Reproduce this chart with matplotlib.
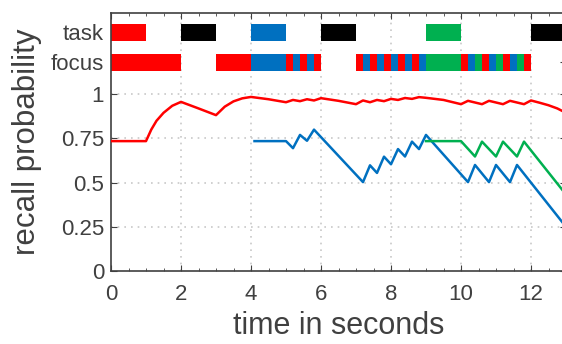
import numpy as np
import matplotlib
matplotlib.use("Agg")
import matplotlib.pyplot as plt

plt.rcParams['font.family'] = ['Liberation Sans', 'DejaVu Sans']

# colours of the four states
R, B, G, K = '#FF0000', '#0070C0', '#00B050', '#000000'

# task bar: start, end, colour
task_start = [0, 2, 4, 6, 9, 12]
task_end = [1, 3, 5, 7, 10, 13]
task_col = [R, K, B, K, G, K]

# focus bar: start, end, colour
focus_start = [0, 3, 4, 5.0, 5.2, 5.4, 5.6, 5.8,
               7.0, 7.2, 7.4, 7.6, 7.8, 8.0, 8.2, 8.4, 8.6, 8.8, 9,
               10.0, 10.2, 10.4, 10.6, 10.8, 11.0, 11.2, 11.4, 11.6, 11.8]
focus_end = [2, 4, 5, 5.2, 5.4, 5.6, 5.8, 6.0,
             7.2, 7.4, 7.6, 7.8, 8.0, 8.2, 8.4, 8.6, 8.8, 9.0, 10,
             10.2, 10.4, 10.6, 10.8, 11.0, 11.2, 11.4, 11.6, 11.8, 12.0]
focus_col = [R, R, B, R, B, R, B, R,
             R, B, R, B, R, B, R, B, R, B, G,
             R, B, G, R, B, G, R, B, G, R]

# recall probability curves
red_t = [0, 1, 1.15, 1.3, 1.5, 1.75, 2, 2.5, 3, 3.25, 3.5, 3.75, 4, 4.5, 5, 5.2, 5.4, 5.6, 5.8, 6,
         6.5, 7, 7.2, 7.4, 7.6, 7.8, 8, 8.2, 8.4, 8.6, 8.8, 9, 9.5, 10, 10.2, 10.6, 10.8,
         11.2, 11.4, 11.8, 12, 12.25, 12.5, 12.75, 13]
red_p = [.735, .735, .8, .85, .895, .935, .957, .92, .882, .93, .96, .977, .985, .972, .955, .968,
         .961, .972, .965, .978, .963, .944, .965, .955, .968, .961, .974, .968, .979, .974,
         .984, .98, .968, .944, .963, .944, .963, .944, .963, .944, .965, .952, .938, .92, .895]

blue_t = [4.1, 5, 5.2, 5.4, 5.6, 5.8, 7.2, 7.4, 7.6, 7.8, 8, 8.2, 8.4, 8.6, 8.8, 9,
          10.2, 10.4, 10.8, 11, 11.4, 11.6, 13]
blue_p = [.735, .735, .695, .77, .737, .80, .503, .598, .555, .647, .604, .69, .648, .732,
          .69, .77, .503, .60, .503, .60, .503, .60, .25]

green_t = [9, 10, 10.4, 10.6, 11, 11.2, 11.6, 11.8, 13]
green_p = [.735, .735, .648, .732, .648, .732, .648, .732, .433]

task_y, focus_y = 1.35, 1.182
bar_h = 0.097
yticks = [0, 0.25, 0.5, 0.75, 1, focus_y, task_y]
ylabels = ['0', '0.25', '0.5', '0.75', '1', 'focus', 'task']

fig = plt.figure(figsize=(5.62, 3.44), dpi=100)
ax = fig.add_axes([111 / 562, 73 / 344, 455 / 562, 258 / 344])

gc = '#404040'
for v in [0.25, 0.5, 0.75, 1]:
    ax.axhline(v, color='#c8c8c8', ls=(0, (1, 3)), lw=1.2, zorder=0)
for v in [2, 4, 6, 8, 10, 12]:
    ax.axvline(v, color='#c8c8c8', ls=(0, (1, 3)), lw=1.2, zorder=0)

for s, e, c in zip(task_start, task_end, task_col):
    ax.barh(task_y, e - s, left=s, height=bar_h, color=c, lw=0, zorder=2)
for s, e, c in zip(focus_start, focus_end, focus_col):
    ax.barh(focus_y, e - s, left=s, height=bar_h, color=c, lw=0, zorder=2)

ax.plot(red_t, red_p, color=R, lw=1.8, zorder=3)
ax.plot(blue_t, blue_p, color=B, lw=1.8, zorder=3)
ax.plot(green_t, green_p, color=G, lw=1.8, zorder=3)

ax.set_xlim(0, 13)
ax.set_ylim(0, 1.46)
ax.set_xticks([0, 2, 4, 6, 8, 10, 12])
ax.set_xticks(np.arange(0, 13.1, 0.5), minor=True)
ax.set_yticks(yticks)
ax.set_yticklabels(ylabels)
ax.tick_params(axis='both', which='major', direction='in', labelsize=16,
               colors=gc, length=4, top=True, right=True)
ax.tick_params(axis='y', which='major', pad=5)
ax.tick_params(axis='x', which='major', pad=9)
ax.tick_params(axis='x', which='minor', direction='in', length=2, top=True, colors=gc)
for sp in ax.spines.values():
    sp.set_color(gc)
    sp.set_linewidth(1.2)

ax.set_xlabel('time in seconds', fontsize=22, color=gc, labelpad=5)
ax.set_ylabel('recall probability', fontsize=22.5, color=gc, labelpad=6)

fig.savefig('out.png', dpi=100)
